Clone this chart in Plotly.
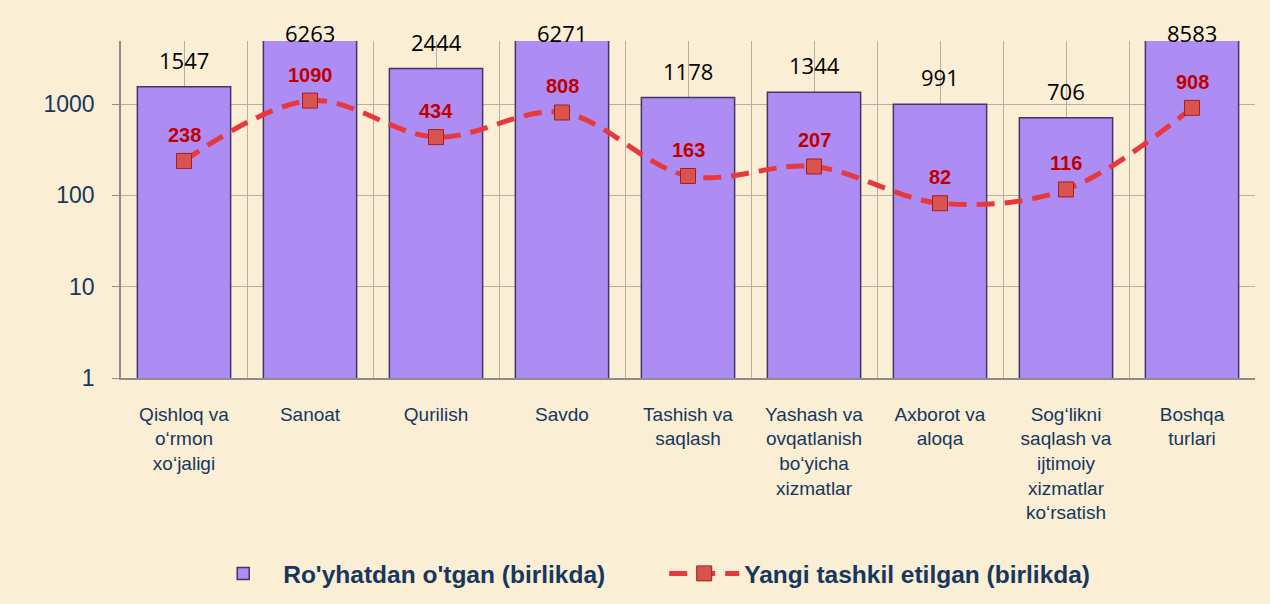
import math
import plotly.graph_objects as go

categories = [
    "Qishloq va<br>o‘rmon<br>xo‘jaligi",
    "Sanoat",
    "Qurilish",
    "Savdo",
    "Tashish va<br>saqlash",
    "Yashash va<br>ovqatlanish<br>bo‘yicha<br>xizmatlar",
    "Axborot va<br>aloqa",
    "Sog‘likni<br>saqlash va<br>ijtimoiy<br>xizmatlar<br>ko‘rsatish",
    "Boshqa<br>turlari",
]
registered = [1547, 6263, 2444, 6271, 1178, 1344, 991, 706, 8583]
new_created = [238, 1090, 434, 808, 163, 207, 82, 116, 908]
y_ticks = [1, 10, 100, 1000]

navy = "#17375e"
bg = "#faeed4"
grid = "#b4b0a8"
y_top = 3.69
xpos = list(range(len(categories)))

fig = go.Figure()

fig.add_trace(
    go.Bar(
        x=xpos,
        y=registered,
        width=0.74,
        name="Ro'yhatdan o'tgan (birlikda)",
        marker=dict(
            color="#ad8df3",
            line=dict(color="#3e3862", width=1.5)
        )
    )
)

fig.add_trace(
    go.Scatter(
        x=xpos,
        y=new_created,
        mode="lines+markers",
        name="Yangi tashkil etilgan (birlikda)",
        line=dict(color="#e8383d", width=5, dash="18px,10px", shape="spline", smoothing=1.0),
        marker=dict(symbol="square", size=15, color="#d9534f",
                    line=dict(color="#a02020", width=1))
    )
)

# black value labels above the bars (tall bars are cut at the top of the plot)
for x, v in zip(xpos, registered):
    ly = math.log10(v)
    clipped = ly > y_top
    fig.add_annotation(
        x=x,
        y=min(ly, y_top),
        text=str(v),
        showarrow=False,
        yshift=8 if clipped else 27,
        font=dict(family="Open Sans", size=22, color="black")
    )

# red value labels above the markers
for x, v in zip(xpos, new_created):
    fig.add_annotation(
        x=x,
        y=math.log10(v),
        text="<b>%d</b>" % v,
        showarrow=False,
        yshift=26,
        font=dict(family="Liberation Sans", size=20, color="#c00000")
    )

fig.update_layout(
    width=1270,
    height=604,
    paper_bgcolor=bg,
    plot_bgcolor=bg,
    margin=dict(l=121, r=15, t=41, b=226, autoexpand=False),
    font=dict(family="Liberation Sans", color=navy),
    xaxis=dict(
        range=[-0.5, 8.5],
        tickmode="array",
        tickvals=xpos,
        ticktext=categories,
        tickfont=dict(size=19, color=navy),
        ticks="outside",
        ticklen=18,
        tickcolor="rgba(0,0,0,0)",
        showgrid=True,
        gridcolor=grid,
        gridwidth=1.2,
        minor=dict(dtick=0.5, tick0=0.5, showgrid=True, gridcolor=grid, gridwidth=1.2),
        showline=True,
        linecolor="#8c8c8c",
        linewidth=1.5,
        zeroline=False
    ),
    yaxis=dict(
        type="log",
        range=[0, y_top],
        tickmode="array",
        tickvals=y_ticks,
        ticktext=[str(t) for t in y_ticks],
        tickfont=dict(size=23, color=navy),
        ticks="outside",
        ticklen=7,
        tickcolor="#8c8c8c",
        ticklabelstandoff=13,
        showgrid=True,
        gridcolor=grid,
        gridwidth=1.2,
        showline=True,
        linecolor="#8c8c8c",
        linewidth=1.5
    ),
    legend=dict(
        orientation="h",
        x=0.0725,
        xanchor="left",
        y=-0.58,
        yanchor="middle",
        font=dict(family="Liberation Sans", size=24.5, color=navy, weight="bold"),
        itemwidth=70,
        entrywidth=376,
        bgcolor="rgba(0,0,0,0)"
    ),
    showlegend=True
)

fig.write_html(
    "out.html",
    config={"displayModeBar": False},
    post_script="document.body.style.margin='0';"
)
